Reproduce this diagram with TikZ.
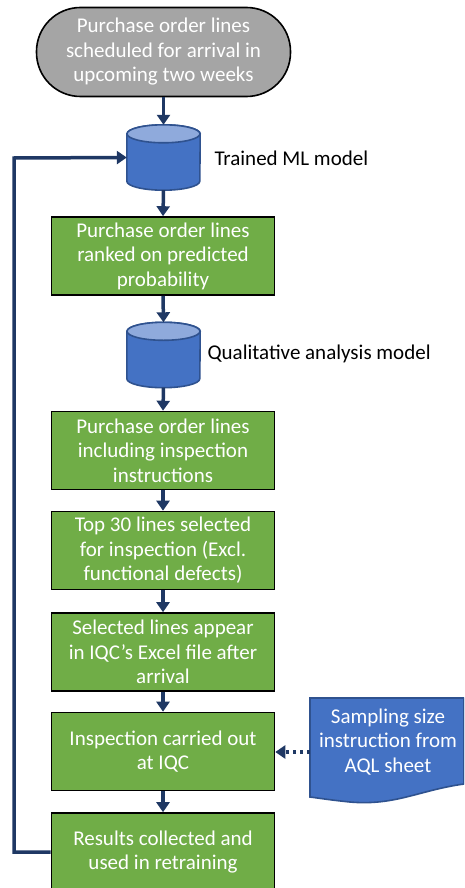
\documentclass[tikz,border=0pt]{standalone}
\usepackage{fontspec}
\setmainfont{Carlito}
\usetikzlibrary{arrows.meta}
\definecolor{navy}{HTML}{1F3864}
\definecolor{boxgreen}{HTML}{70AD47}
\definecolor{dbbody}{HTML}{4472C4}
\definecolor{dbtop}{HTML}{8FAADC}
\definecolor{dbline}{HTML}{2F528F}
\definecolor{termgray}{HTML}{A5A5A5}
\tikzset{
  txt/.style={font=\fontsize{21}{24.5}\selectfont, align=center},
  stepbox/.style={txt, draw=black, line width=1.6pt, fill=boxgreen, text=white,
    minimum width=223pt, minimum height=78pt, inner sep=0pt},
  term/.style={txt, draw=black, line width=1.6pt, fill=termgray, text=white,
    minimum width=254pt, minimum height=89pt, rounded corners=44pt, inner sep=0pt},
  dbnode/.style={minimum width=73pt, minimum height=65pt, inner sep=0pt},
  label/.style={txt, anchor=west, text=black},
  flow/.style={draw=navy, line width=3.5pt, -{Triangle[length=10pt,width=13pt]}},
  hint/.style={draw=navy, line width=3.5pt, dash pattern=on 3.5pt off 3.5pt,
    -{Triangle[length=10pt,width=13pt]}},
}
\begin{document}
\begin{tikzpicture}[x=1pt,y=-1pt]
\useasboundingbox (0,0) rectangle (464,888);
\clip (0,0) rectangle (464,888);

% start terminal
\node[term] (start) at (163.5,52) {Purchase order lines\\scheduled for arrival in\\upcoming two weeks};

% model databases (outline nodes, drawn as cylinders below)
\node[dbnode] (ml) at (163.5,157.5) {};
\node[dbnode] (qa) at (163.5,355) {};
\foreach \db in {ml,qa}{
  \path[fill=dbbody, draw=dbline, line width=1.6pt]
    ([yshift=-9pt]\db.north west) -- ([yshift=9pt]\db.south west)
    arc[start angle=180, end angle=360, x radius=36.5pt, y radius=9pt]
    -- ([yshift=-9pt]\db.north east)
    arc[start angle=0, end angle=180, x radius=36.5pt, y radius=9pt] -- cycle;
  \path[fill=dbtop, draw=dbline, line width=1.6pt]
    ([yshift=-9pt]\db.north) ellipse[x radius=36.5pt, y radius=9pt];
}
\node[label] (mllab) at (211,158) {Trained ML model};
\node[label] (qalab) at (204,354) {Qualitative analysis model};

% process steps
\node[stepbox] (s1) at (163,256) {Purchase order lines\\ranked on predicted\\probability};
\node[stepbox] (s2) at (163,450.5) {Purchase order lines\\including inspection\\instructions};
\node[stepbox] (s3) at (163,550.5) {Top 30 lines selected\\for inspection (Excl.\\functional defects)};
\node[stepbox] (s4) at (163,652) {Selected lines appear\\in IQC’s Excel file after\\arrival};
\node[stepbox] (s5) at (163,751.5) {Inspection carried out\\at IQC};
\node[stepbox, minimum height=90pt] (s6) at (163,858) {};
\node[txt, text=white] (s6t) at (163,852) {Results collected and\\used in retraining};

% document: sampling instruction
\coordinate (dtl) at (310,698);
\path[fill=dbbody, draw=dbline, line width=1.6pt]
  (dtl) -- (464,698) -- (464,784)
  .. controls (420,790) and (395,806) .. (350,802)
  .. controls (330,800) and (318,798) .. (310,797) -- cycle;
\node[txt, text=white] (doc) at (388,742) {Sampling size\\instruction from\\AQL sheet};
\coordinate (docin) at (310,752);

% connectors
\draw[flow] (start.south) -- (ml.north);
\draw[flow] (ml.south) -- (s1.north);
\draw[flow] (s1.south) -- (qa.north);
\draw[flow] (qa.south) -- (s2.north);
\draw[flow] (s2.south) -- (s3.north);
\draw[flow] (s3.south) -- (s4.north);
\draw[flow] (s4.south) -- (s5.north);
\draw[flow] (s5.south) -- (s6.north);
\draw[hint] (docin) -- (s5.east |- docin);
\coordinate (fbl) at (14,852);
\draw[flow] (s6.west |- fbl) -- (fbl) -- (14,158) -- (ml.west);
\end{tikzpicture}
\end{document}
